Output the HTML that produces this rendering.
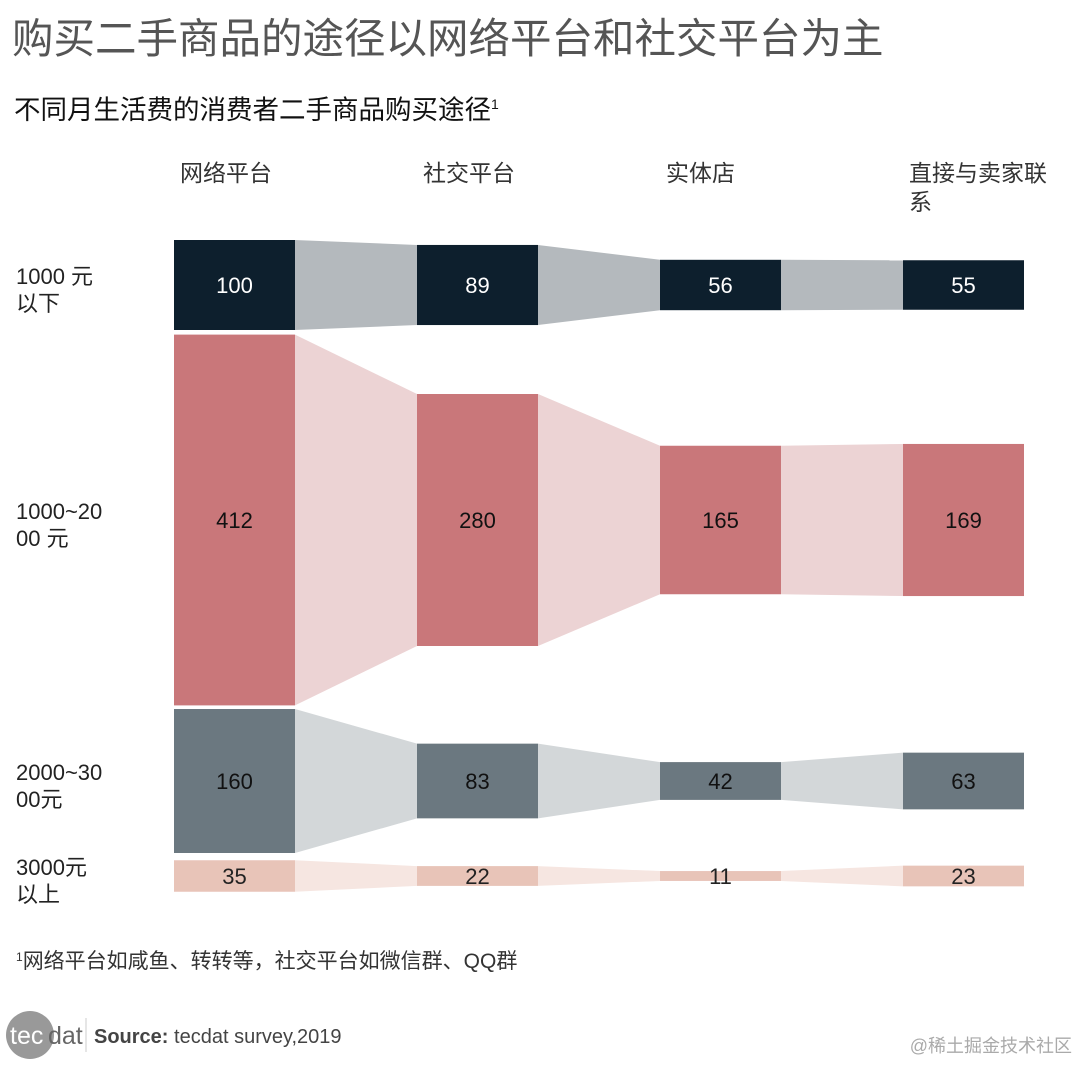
<!DOCTYPE html>
<html><head><meta charset="utf-8"><style>
body{margin:0;background:#fff;width:1080px;height:1063px;overflow:hidden;font-family:"Liberation Sans","Noto Sans CJK SC",sans-serif}
</style></head><body>
<svg id="c" width="1080" height="1063" xmlns="http://www.w3.org/2000/svg" style="font-family:'Liberation Sans','Noto Sans CJK SC',sans-serif">
<text x="12" y="53" font-size="41.5" fill="#555">购买二手商品的途径以网络平台和社交平台为主</text>
<text x="14" y="119" font-size="26.5" fill="#111">不同月生活费的消费者二手商品购买途径<tspan font-size="14" dy="-10">1</tspan></text>
<text x="16" y="968" font-size="21" fill="#333"><tspan font-size="12" dy="-7">1</tspan><tspan dy="7">网络平台如咸鱼、转转等，社交平台如微信群、QQ群</tspan></text>
<g><circle cx="30" cy="1035" r="24" fill="#999"/>
<text x="10" y="1044" font-size="25" fill="#fff">tec</text><text x="48" y="1044" font-size="25" fill="#666">dat</text>
<line x1="86" y1="1018" x2="86" y2="1052" stroke="#ccc"/></g>
<text x="94" y="1043" font-size="20" fill="#444"><tspan font-weight="bold">Source:</tspan> tecdat survey,2019</text>
<text x="1072" y="1052" text-anchor="end" font-size="18" fill="#aaa">@稀土掘金技术社区</text>
<g id="g"></g>
</svg>
<script>
const channels=["网络平台","社交平台","实体店","直接与卖家联系"];
const groups=["1000 元|以下","1000~20|00 元","2000~30|00元","3000元|以上"];
const row1=[100,89,56,55];
const row2=[412,280,165,169];
const row3=[160,83,42,63];
const row4=[35,22,11,23];
const series=[row1,row2,row3,row4];
const barColors=["#0d1f2d","#c9777a","#6b7880","#e8c4b8"];
const linkColors=["#b4b9bd","#ecd3d4","#d3d7d9","#f6e6e1"];
const textColors=["#fff","#111","#111","#222"];
const rowCenters=[285,520,781,876];
const colX=i=>174+i*243;
const barW=121;
const scaleH=v=>v*0.9;
const NS="http://www.w3.org/2000/svg";
const g=document.getElementById('g');
function mk(t,a){const e=document.createElementNS(NS,t);for(const k in a)e.setAttribute(k,a[k]);g.appendChild(e);return e;}
channels.forEach((c,i)=>{
  const lines=c.length>6?[c.slice(0,6),c.slice(6)]:[c];
  lines.forEach((l,j)=>{const t=mk('text',{x:colX(i)+6,y:181+j*29,'font-size':23,fill:'#333'});t.textContent=l;
  
  });
});
groups.forEach((s,r)=>{
  s.split('|').forEach((l,j)=>{const t=mk('text',{x:16,y:rowCenters[r]-1+j*27,'font-size':22,fill:'#222'});t.textContent=l;
  
  });
});
series.forEach((vals,r)=>{
  const cy=rowCenters[r];
  for(let i=0;i<vals.length-1;i++){
    const h1=scaleH(vals[i])/2,h2=scaleH(vals[i+1])/2,x1=colX(i)+barW,x2=colX(i+1);
    const p=mk('polygon',{points:`${x1},${cy-h1} ${x2},${cy-h2} ${x2},${cy+h2} ${x1},${cy+h1}`,fill:linkColors[r]});
    
    
  }
  vals.forEach((v,i)=>{
    const h=scaleH(v);
    const b=mk('rect',{x:colX(i),y:cy-h/2,width:barW,height:h,fill:barColors[r]});
    
    
    const t=mk('text',{x:colX(i)+barW/2,y:cy+8,'text-anchor':'middle','font-size':22,fill:textColors[r]});
    t.textContent=v;
    
    
  });
});
</script>
</body></html>
